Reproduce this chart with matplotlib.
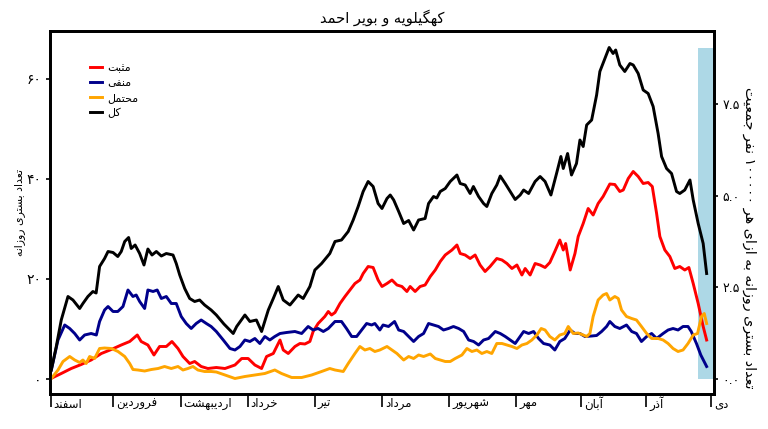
import re
import matplotlib
matplotlib.use("Agg")
import matplotlib.pyplot as plt
import matplotlib.transforms as mtransforms

# ---------------- data ----------------
title_text = "کهگیلویه و بویر احمد"
ylabel_left = "تعداد بستری روزانه"
ylabel_right = "تعداد بستری روزانه به ازای هر ۱۰۰۰۰۰ نفر جمعیت"
series_names = ["مثبت", "منفی", "محتمل", "کل"]
month_names = ["اسفند", "فروردین", "اردیبهشت", "خرداد", "تیر", "مرداد",
               "شهریور", "مهر", "آبان", "آذر", "دی"]
month_days = [0, 29, 60, 91, 122, 153, 184, 215, 245, 275, 305]
left_ticks = [0, 20, 40, 60]
left_tick_labels = ["۰", "۲۰", "۴۰", "۶۰"]
right_ticks = [0.0, 2.5, 5.0, 7.5]
right_tick_labels = ["۰.۰", "۲.۵", "۵.۰", "۷.۵"]
population_per_100k = 7.33
shade_start = 299.0

total_days = [0.3, 2.6, 4.9, 8.0, 10.3, 13.4, 14.9, 17.2, 19.5, 21.0, 22.6, 24.9, 26.5, 28.8,
              31.0, 32.6, 34.2, 36.0, 37.2, 39.0, 41.1, 43.1, 44.9, 46.8, 48.8, 51.1, 53.4,
              56.5, 58.0, 59.6, 61.9, 64.2, 66.5, 68.8, 71.1, 74.1, 76.5, 80.0, 84.3, 85.9,
              89.7, 92.0, 95.0, 97.4, 100.5, 102.8, 105.1, 107.4, 110.5, 114.3, 116.6, 119.7,
              122.0, 125.1, 128.9, 131.3, 134.3, 137.4, 139.7, 142.0, 144.3, 146.6, 148.9,
              151.2, 153.0, 155.3, 156.8, 158.4, 160.7, 163.0, 165.3, 167.6, 169.9, 172.9,
              174.5, 176.8, 178.3, 179.9, 182.2, 184.5, 187.6, 189.1, 191.4, 193.7, 195.2,
              197.6, 199.9, 201.4, 203.7, 206.0, 207.6, 209.9, 212.2, 214.5, 216.8, 218.4,
              220.7, 223.7, 226.0, 228.3, 231.0, 233.6, 235.6, 236.7, 238.7, 240.5, 242.8,
              244.4, 245.9, 247.5, 249.8, 252.1, 253.6, 255.9, 257.9, 259.7, 260.9, 262.8,
              265.1, 267.5, 269.0, 271.3, 273.6, 275.9, 278.2, 280.5, 282.1, 284.4, 286.7,
              289.0, 290.5, 292.8, 295.2, 296.7, 299.0, 301.3, 302.9]
total_vals = [1.8, 6.5, 11.8, 16.5, 15.8, 14.1, 15.1, 16.5, 17.5, 17.2, 22.5, 24.1, 25.5, 25.3,
              24.5, 25.5, 27.5, 28.3, 26.1, 26.8, 25.1, 22.8, 26.0, 24.8, 25.5, 24.6, 25.1,
              24.8, 23.1, 20.8, 18.1, 16.1, 15.5, 15.8, 14.8, 13.8, 12.8, 11.0, 9.1, 10.5,
              12.8, 11.5, 11.8, 9.5, 13.8, 16.1, 18.5, 15.8, 14.8, 16.8, 16.1, 18.5,
              21.8, 23.1, 25.1, 27.5, 27.8, 29.5, 31.8, 34.5, 37.5, 39.5, 38.5,
              35.1, 34.1, 36.1, 36.8, 35.8, 33.5, 31.1, 31.7, 29.8, 31.8, 32.1,
              35.1, 36.5, 36.2, 37.5, 38.1, 39.5, 40.8, 39.1, 38.8, 37.1, 38.5,
              36.5, 35.1, 34.5, 37.1, 38.8, 40.6, 39.1, 37.5, 35.9, 36.8, 37.8,
              37.1, 39.5, 40.5, 39.5, 36.8, 41.1, 44.5, 42.1, 45.1, 40.8, 43.1,
              47.8, 46.5, 50.8, 51.8, 56.8, 61.5, 64.1, 66.3, 65.1, 65.8, 62.8,
              61.5, 63.1, 62.8, 61.1, 57.8, 57.1, 54.5, 49.1, 44.5, 42.1, 41.1,
              37.5, 37.1, 37.8, 39.8, 35.8, 31.1, 27.1, 21.1]

pos_days = [0.1, 4.9, 9.5, 14.1, 18.7, 23.4, 28.0, 32.6, 36.5, 40.0, 41.8, 44.9, 47.7, 50.3,
            53.4, 56.0, 58.8, 61.1, 64.2, 66.5, 69.5, 72.6, 76.5, 80.5, 85.1, 88.2, 91.2,
            94.3, 97.4, 99.7, 102.8, 105.9, 107.4, 109.7, 112.8, 115.1, 117.4, 119.7, 121.2,
            123.5, 126.6, 128.2, 129.7, 131.3, 133.6, 135.9, 138.2, 140.5, 142.8, 144.3,
            146.6, 148.9, 151.2, 153.0, 155.3, 157.6, 159.9, 162.2, 164.5, 166.0, 168.3,
            170.6, 172.9, 175.3, 177.6, 179.9, 182.2, 185.3, 187.6, 189.1, 191.4, 193.7,
            196.0, 198.3, 200.6, 202.9, 206.0, 208.4, 210.7, 213.0, 215.3, 217.6, 219.1,
            221.4, 223.7, 226.0, 228.3, 230.5, 232.8, 235.1, 236.7, 237.8, 239.9, 242.1,
            243.6, 245.9, 248.2, 250.5, 252.8, 255.1, 258.2, 260.5, 262.8, 264.4, 266.7,
            269.0, 271.3, 273.6, 275.9, 277.8, 279.8, 281.3, 283.6, 285.9, 288.2, 290.5,
            292.8, 294.7, 296.7, 299.0, 301.3, 302.9]
pos_vals = [0.1, 1.1, 2.1, 2.9, 3.8, 5.1, 5.9, 6.8, 7.5, 8.8, 7.5, 6.8, 4.8, 6.5,
            6.5, 7.5, 6.1, 4.5, 3.1, 3.5, 2.5, 2.1, 2.3, 2.1, 2.8, 4.1, 4.1,
            2.8, 2.1, 4.5, 5.1, 7.8, 5.8, 5.1, 6.5, 7.1, 7.0, 7.5, 9.5,
            11.1, 12.5, 13.5, 12.8, 13.3, 15.1, 16.5, 17.8, 19.1, 19.8, 21.1,
            22.5, 22.3, 19.8, 18.5, 19.1, 19.8, 18.8, 18.5, 17.5, 18.5, 17.5,
            18.5, 18.8, 20.5, 21.8, 23.5, 24.8, 25.8, 26.8, 25.1, 24.8, 24.1,
            24.8, 22.8, 21.5, 22.5, 24.1, 23.8, 23.1, 22.1, 22.8, 20.8, 22.1,
            20.8, 23.1, 22.8, 22.3, 23.3, 25.5, 27.8, 25.8, 27.1, 21.8, 25.1,
            28.5, 31.1, 34.1, 32.8, 35.1, 36.5, 39.0, 38.9, 37.5, 37.8, 40.1,
            41.5, 40.5, 39.1, 39.3, 38.5, 33.1, 28.5, 25.8, 24.5, 22.1, 22.5,
            21.8, 22.3, 19.1, 15.1, 10.5, 7.8]

neg_days = [0.3, 3.4, 6.5, 8.8, 11.1, 13.4, 15.7, 18.7, 21.1, 22.6, 24.9, 26.5, 28.8, 31.0,
            33.4, 35.7, 38.0, 39.5, 41.1, 43.4, 44.9, 47.3, 49.2, 51.1, 53.4, 55.7, 58.0,
            60.3, 62.6, 64.9, 67.2, 69.5, 71.9, 74.1, 76.5, 79.7, 82.8, 85.1, 87.4, 89.7,
            92.0, 94.3, 96.6, 98.9, 101.2, 103.5, 105.9, 108.9, 112.8, 115.9, 118.9, 121.2,
            123.5, 125.9, 128.2, 131.3, 134.3, 136.6, 139.0, 141.3, 143.6, 145.9, 148.2,
            149.7, 152.0, 153.5, 156.0, 158.8, 160.7, 163.0, 165.3, 167.6, 169.9, 172.2,
            174.5, 176.8, 179.1, 181.4, 183.7, 186.0, 188.4, 190.7, 193.0, 195.3, 197.6,
            199.9, 202.2, 205.3, 207.6, 209.9, 212.2, 214.5, 216.8, 218.4, 220.7, 223.0,
            225.3, 227.6, 230.5, 232.8, 235.1, 237.4, 239.9, 242.1, 244.4, 246.7, 249.8,
            252.1, 254.4, 256.7, 258.2, 260.5, 262.8, 265.9, 268.3, 270.5, 272.8, 275.2,
            277.5, 279.8, 282.8, 285.1, 287.4, 289.7, 292.0, 294.3, 295.8, 298.2, 300.2,
            302.9]
neg_vals = [1.8, 7.8, 10.8, 10.1, 9.1, 7.8, 8.8, 9.1, 8.8, 11.5, 13.8, 14.5, 13.5, 13.5,
            14.5, 17.8, 16.5, 16.8, 15.5, 14.1, 17.8, 17.5, 17.8, 16.1, 16.5, 15.1, 15.1,
            12.5, 11.1, 10.1, 11.1, 11.8, 11.1, 10.5, 9.5, 7.8, 6.1, 5.8, 6.5, 7.8,
            7.5, 8.1, 7.1, 8.5, 7.8, 8.5, 9.1, 9.3, 9.5, 9.1, 10.5, 9.8,
            10.1, 9.5, 10.1, 11.5, 11.5, 10.1, 8.5, 8.5, 9.8, 11.1, 10.8,
            11.1, 9.8, 10.8, 10.5, 11.5, 9.8, 9.5, 8.5, 7.5, 8.5, 9.1,
            11.1, 10.8, 10.5, 9.8, 10.1, 10.5, 10.1, 9.5, 7.8, 7.5, 6.8,
            7.8, 8.1, 9.5, 9.1, 8.5, 7.8, 7.1, 8.5, 9.5, 9.1, 9.5,
            8.1, 7.1, 6.8, 5.8, 7.5, 8.1, 9.8, 9.1, 9.1, 8.5, 8.6,
            8.7, 9.5, 10.5, 11.5, 10.5, 10.1, 10.8, 9.5, 9.1, 7.5, 8.5,
            9.1, 8.1, 9.1, 9.8, 10.1, 9.8, 10.5, 10.5, 9.5, 7.1, 4.8,
            2.5]

prob_days = [0.3, 3.4, 5.7, 8.8, 11.1, 13.4, 14.9, 16.4, 18.0, 20.3, 22.6, 24.9, 28.0, 31.1,
             34.2, 36.5, 38.0, 40.3, 43.4, 46.5, 49.6, 52.6, 55.7, 58.8, 61.1, 63.4, 65.7,
             68.0, 71.1, 74.1, 76.5, 80.5, 85.1, 89.7, 94.3, 98.9, 103.5, 106.6, 111.3,
             115.9, 120.5, 125.1, 128.9, 131.3, 135.1, 137.4, 140.5, 142.8, 145.1, 147.4,
             149.7, 152.0, 155.3, 157.6, 159.9, 163.0, 165.3, 167.6, 169.9, 172.2, 175.3,
             177.6, 179.9, 182.2, 184.5, 186.8, 189.9, 192.2, 194.5, 196.8, 199.1, 201.4,
             203.7, 206.0, 208.4, 210.7, 213.0, 215.3, 217.6, 219.9, 222.2, 224.5, 226.5,
             228.3, 230.5, 232.8, 235.1, 237.4, 239.0, 241.3, 243.6, 245.9, 247.5, 249.0,
             250.5, 252.8, 255.1, 256.7, 258.2, 260.5, 262.1, 263.6, 265.9, 268.3, 270.5,
             272.8, 275.2, 277.5, 280.5, 282.8, 285.1, 287.4, 289.7, 292.0, 294.3, 296.7,
             298.7, 300.5, 301.8, 302.9]
prob_vals = [0.1, 1.8, 3.5, 4.5, 3.8, 3.3, 3.8, 3.1, 4.5, 4.1, 6.1, 6.2, 6.1, 5.5,
             4.5, 3.1, 1.9, 1.8, 1.6, 1.9, 2.1, 2.5, 2.1, 2.5, 1.8, 2.1, 2.5,
             1.8, 1.5, 1.5, 1.4, 0.8, 0.1, 0.5, 0.8, 1.1, 1.8, 1.1, 0.3,
             0.3, 0.8, 1.5, 2.1, 1.8, 1.5, 3.1, 5.1, 6.5, 5.8, 6.1,
             5.5, 5.8, 6.5, 5.8, 5.1, 3.8, 4.5, 4.1, 4.8, 4.5, 5.0,
             4.1, 3.8, 3.5, 3.5, 4.1, 4.8, 6.1, 5.5, 5.8, 5.1, 5.5,
             5.1, 7.1, 7.1, 6.8, 6.5, 6.1, 6.8, 7.1, 7.8, 8.8, 10.1,
             9.8, 8.5, 7.8, 8.8, 9.1, 10.5, 9.1, 9.2, 8.8, 8.5, 9.1,
             12.5, 15.8, 16.8, 17.1, 15.8, 16.5, 16.1, 13.8, 12.5, 12.1, 11.8,
             10.5, 9.1, 8.1, 8.1, 7.8, 7.1, 6.1, 5.5, 5.8, 7.1, 8.8,
             9.1, 12.5, 13.1, 11.1]

# ---------------- simple Persian shaping (matplotlib has no RTL shaping) ----------------
FORMS = {
    'ا': ('\uFE8D', '\uFE8E', None, None), 'آ': ('\uFE81', '\uFE82', None, None),
    'ب': ('\uFE8F', '\uFE90', '\uFE91', '\uFE92'), 'پ': ('\uFB56', '\uFB57', '\uFB58', '\uFB59'),
    'ت': ('\uFE95', '\uFE96', '\uFE97', '\uFE98'), 'ث': ('\uFE99', '\uFE9A', '\uFE9B', '\uFE9C'),
    'ج': ('\uFE9D', '\uFE9E', '\uFE9F', '\uFEA0'), 'ح': ('\uFEA1', '\uFEA2', '\uFEA3', '\uFEA4'),
    'خ': ('\uFEA5', '\uFEA6', '\uFEA7', '\uFEA8'), 'د': ('\uFEA9', '\uFEAA', None, None),
    'ذ': ('\uFEAB', '\uFEAC', None, None), 'ر': ('\uFEAD', '\uFEAE', None, None),
    'ز': ('\uFEAF', '\uFEB0', None, None), 'ژ': ('\uFB8A', '\uFB8B', None, None),
    'س': ('\uFEB1', '\uFEB2', '\uFEB3', '\uFEB4'), 'ش': ('\uFEB5', '\uFEB6', '\uFEB7', '\uFEB8'),
    'ع': ('\uFEC9', '\uFECA', '\uFECB', '\uFECC'), 'ف': ('\uFED1', '\uFED2', '\uFED3', '\uFED4'),
    'ک': ('\uFB8E', '\uFB8F', '\uFB90', '\uFB91'), 'گ': ('\uFB92', '\uFB93', '\uFB94', '\uFB95'),
    'ل': ('\uFEDD', '\uFEDE', '\uFEDF', '\uFEE0'), 'م': ('\uFEE1', '\uFEE2', '\uFEE3', '\uFEE4'),
    'ن': ('\uFEE5', '\uFEE6', '\uFEE7', '\uFEE8'), 'و': ('\uFEED', '\uFEEE', None, None),
    'ه': ('\uFEE9', '\uFEEA', '\uFEEB', '\uFEEC'), 'ی': ('\uFBFC', '\uFBFD', '\uFBFE', '\uFBFF'),
}


def fa(text):
    out = []
    n = len(text)
    for i, c in enumerate(text):
        f = FORMS.get(c)
        if f is None:
            out.append(c)
            continue
        prev = text[i - 1] if i > 0 else ''
        nxt = text[i + 1] if i < n - 1 else ''
        jp = prev in FORMS and FORMS[prev][2] is not None
        jn = f[2] is not None and nxt in FORMS
        if jp and jn:
            out.append(f[3])
        elif jp:
            out.append(f[1])
        elif jn:
            out.append(f[2])
        else:
            out.append(f[0])
    s = ''.join(out)[::-1]
    s = re.sub(r'[\u06F0-\u06F90-9.]+', lambda m: m.group(0)[::-1], s)
    return s


# ---------------- plot ----------------
plt.rcParams['font.family'] = ['DejaVu Sans']
fig = plt.figure(figsize=(7.68, 4.29), dpi=100)
ax = fig.add_axes([50 / 768, 1 - 394 / 429, (714 - 50) / 768, (394 - 31) / 429])

ymax_shade = max(total_vals)
xlim = (-0.3, 306.3)
ylim = (-3.0, 69.6)
ax.fill_between([shade_start, xlim[1]], 0, ymax_shade, color='#ADD8E6', lw=0, zorder=1)

lw = 2.1
ax.plot(pos_days, pos_vals, color='#FF0000', lw=lw, label=fa(series_names[0]), zorder=3)
ax.plot(neg_days, neg_vals, color='#00008B', lw=lw, label=fa(series_names[1]), zorder=3)
ax.plot(prob_days, prob_vals, color='#FFA500', lw=lw, label=fa(series_names[2]), zorder=3)
ax.plot(total_days, total_vals, color='black', lw=lw, label=fa(series_names[3]), zorder=3)

ax.set_xlim(*xlim)
ax.set_ylim(*ylim)
for s in ax.spines.values():
    s.set_linewidth(2.0)

ax.set_yticks(left_ticks)
ax.set_yticklabels(left_tick_labels, fontsize=10)
ax.tick_params(axis='y', length=3, width=1.2, pad=3)

ax.set_xticks(month_days)
ax.set_xticklabels([''] * len(month_days))
ax.tick_params(axis='x', length=9.5, width=1.2)
trans = mtransforms.blended_transform_factory(ax.transData, ax.transAxes)
for d, name in zip(month_days, month_names):
    t = mtransforms.offset_copy(trans, fig=fig, x=3, y=-10, units='dots')
    ax.text(d, 0, fa(name), transform=t, ha='left', va='center', fontsize=8.5)

ax.set_ylabel(fa(ylabel_left), fontsize=7.8, labelpad=1.5)

ax2 = ax.twinx()
ax2.set_ylim(ylim[0] / population_per_100k, ylim[1] / population_per_100k)
ax2.set_yticks(right_ticks)
ax2.set_yticklabels(right_tick_labels, fontsize=9)
ax2.tick_params(axis='y', length=3, width=1.2, pad=3)
for s in ax2.spines.values():
    s.set_linewidth(2.0)
ax2.set_ylabel(fa(ylabel_right), fontsize=10.3, rotation=270, labelpad=12)
ax2.yaxis.label.set_y(0.43)

ax.set_title(fa(title_text), fontsize=10.5, pad=6)

leg = ax.legend(loc='upper left', bbox_to_anchor=(0.045, 0.94), frameon=False,
                fontsize=8, handlelength=1.1, handletextpad=0.5, labelspacing=0.45)

fig.savefig('out.png', dpi=100)
